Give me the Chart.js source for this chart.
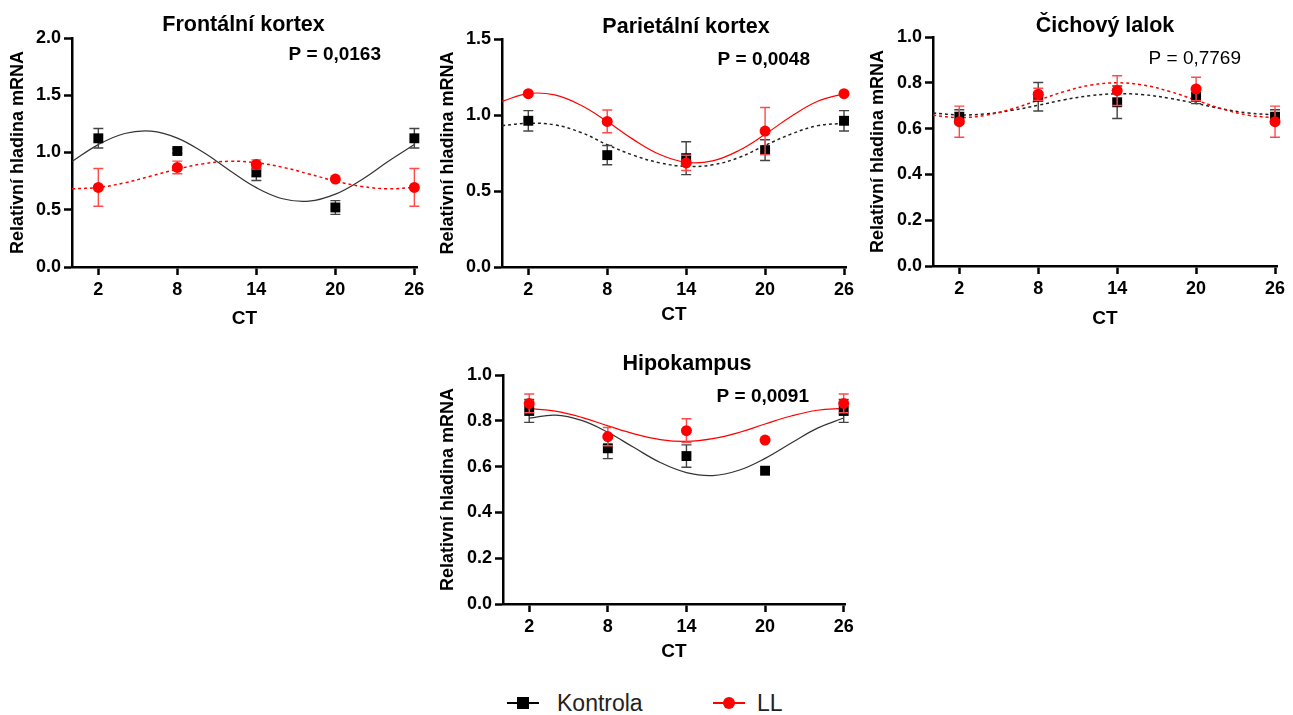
<!DOCTYPE html>
<html lang="cs">
<head>
<meta charset="utf-8">
<title>Relativní hladina mRNA</title>
<script src="https://cdn.jsdelivr.net/npm/chart.js@4.4.1/dist/chart.umd.min.js"></script>
<style>
  html, body { margin: 0; padding: 0; background: #fff; }
  body { width: 1293px; height: 715px; position: relative; overflow: hidden;
         font-family: "Liberation Sans", Arial, sans-serif; }
  canvas { position: absolute; }
  .legend-item { position: absolute; top: 689px; height: 28px; display: flex; align-items: center;
                 font-size: 23px; color: #222; white-space: nowrap; }
  .mk { position: relative; width: 32px; height: 28px; }
  .mk .ln { position: absolute; left: 0; right: 0; top: 13px; height: 2px; }
  .mk .sq { position: absolute; left: 10px; top: 8px; width: 12px; height: 12px; background: #000; }
  .mk .ci { position: absolute; left: 10px; top: 8px; width: 12px; height: 12px; border-radius: 50%; background: #ff0000; }
</style>
</head>
<body>
<canvas id="frontal" width="430" height="340" style="left:0px;top:0px"></canvas>
<canvas id="parietal" width="430" height="340" style="left:430px;top:0px"></canvas>
<canvas id="olfactory" width="433" height="340" style="left:860px;top:0px"></canvas>
<canvas id="hippo" width="430" height="330" style="left:430px;top:340px"></canvas>

<div class="legend-item" style="left:507px">
  <span class="mk" style="margin-right:18px"><span class="ln" style="background:#000"></span><span class="sq"></span></span>Kontrola
</div>
<div class="legend-item" style="left:713px">
  <span class="mk" style="margin-right:12px"><span class="ln" style="background:#ff0000"></span><span class="ci"></span></span>LL
</div>

<script>
// Sampling times (circadian time, h)
const ctTicks = [2, 8, 14, 20, 26];

// Frontální kortex: means and SEM
const frontalKontrola    = [1.124, 1.013, 0.826, 0.520, 1.124];
const frontalKontrolaSem = [0.085, 0.020, 0.070, 0.060, 0.085];
const frontalLL          = [0.695, 0.870, 0.896, 0.768, 0.695];
const frontalLLSem       = [0.165, 0.055, 0.040, 0.000, 0.165];

// Parietální kortex
const parietalKontrola    = [0.962, 0.736, 0.716, 0.769, 0.962];
const parietalKontrolaSem = [0.067, 0.063, 0.108, 0.068, 0.067];
const parietalLL          = [1.140, 0.958, 0.685, 0.894, 1.140];
const parietalLLSem       = [0.000, 0.075, 0.050, 0.155, 0.000];

// Čichový lalok
const olfactoryKontrola    = [0.652, 0.739, 0.715, 0.739, 0.652];
const olfactoryKontrolaSem = [0.030, 0.062, 0.071, 0.030, 0.030];
const olfactoryLL          = [0.630, 0.750, 0.766, 0.773, 0.630];
const olfactoryLLSem       = [0.068, 0.026, 0.065, 0.051, 0.068];

// Hipokampus
const hippoKontrola    = [0.843, 0.680, 0.646, 0.582, 0.843];
const hippoKontrolaSem = [0.050, 0.045, 0.049, 0.000, 0.050];
const hippoLL          = [0.876, 0.731, 0.757, 0.716, 0.876];
const hippoLLSem       = [0.041, 0.040, 0.052, 0.000, 0.041];

// Cosinor fit curves, sampled every 2 h
const fitHours      = [0, 2, 4, 6, 8, 10, 12, 14, 16, 18, 20, 22, 24, 26];
const fitHoursHippo = [2, 4, 6, 8, 10, 12, 14, 16, 18, 20, 22, 24, 26];

const frontalKontrolaFit   = [0.921, 1.069, 1.166, 1.187, 1.126, 0.999, 0.841, 0.693, 0.596, 0.575, 0.636, 0.763, 0.921, 1.069];
const frontalLLFit         = [0.683, 0.695, 0.735, 0.794, 0.855, 0.902, 0.923, 0.911, 0.871, 0.812, 0.751, 0.704, 0.683, 0.695];
const parietalKontrolaFit  = [0.930, 0.945, 0.935, 0.885, 0.805, 0.735, 0.685, 0.662, 0.672, 0.720, 0.800, 0.875, 0.930, 0.945];
const parietalLLFit        = [1.090, 1.141, 1.132, 1.064, 0.957, 0.838, 0.740, 0.689, 0.698, 0.766, 0.873, 0.992, 1.090, 1.141];
const olfactoryKontrolaFit = [0.668, 0.660, 0.664, 0.680, 0.702, 0.726, 0.744, 0.752, 0.748, 0.732, 0.710, 0.686, 0.668, 0.660];
const olfactoryLLFit       = [0.658, 0.648, 0.658, 0.686, 0.724, 0.762, 0.790, 0.800, 0.790, 0.762, 0.724, 0.686, 0.658, 0.648];
const hippoKontrolaFit     = [0.812, 0.825, 0.802, 0.750, 0.683, 0.618, 0.574, 0.561, 0.584, 0.636, 0.703, 0.768, 0.812];
const hippoLLFit           = [0.854, 0.842, 0.815, 0.778, 0.743, 0.718, 0.710, 0.722, 0.749, 0.786, 0.821, 0.846, 0.854];

const FONT = '"Liberation Sans", Arial, sans-serif';
const BLACK = '#000000';
const RED = '#ff0000';
const DASH = [3, 3];

const toPoints = (xs, ys) => xs.map((x, i) => ({ x: x, y: ys[i] }));

// Error bars (mean ± SEM) drawn just beneath their markers
const errorBarPlugin = {
  id: 'errorBars',
  beforeDatasetDraw(chart, args) {
    const ds = chart.data.datasets[args.index];
    if (!ds.errors) return;
    const xs = chart.scales.x, ys = chart.scales.y, ctx = chart.ctx;
    ctx.save();
    ctx.strokeStyle = ds.errorColor;
    ctx.lineWidth = 1.4;
    ds.data.forEach((p, i) => {
      const e = ds.errors[i];
      if (!e) return;
      const px = xs.getPixelForValue(p.x);
      const top = ys.getPixelForValue(p.y + e);
      const bot = ys.getPixelForValue(p.y - e);
      ctx.beginPath();
      ctx.moveTo(px, top); ctx.lineTo(px, bot);
      ctx.moveTo(px - 5, top); ctx.lineTo(px + 5, top);
      ctx.moveTo(px - 5, bot); ctx.lineTo(px + 5, bot);
      ctx.stroke();
    });
    ctx.restore();
  }
};

// Panel heading and P value of the rhythm comparison
const panelTextPlugin = {
  id: 'panelText',
  afterDraw(chart, args, o) {
    const { ctx, chartArea } = chart;
    ctx.save();
    ctx.fillStyle = '#000';
    ctx.textBaseline = 'alphabetic';
    ctx.textAlign = 'center';
    ctx.font = 'bold 21.5px ' + FONT;
    ctx.fillText(o.title, (chartArea.left + chartArea.right) / 2 + o.titleDx, chartArea.top + o.titleDy);
    ctx.textAlign = 'right';
    ctx.font = (o.pBold ? 'bold ' : '') + '19px ' + FONT;
    ctx.fillText(o.pText, chartArea.right - 36, chartArea.top + o.pDy);
    ctx.restore();
  }
};

function makePanel(id, cfg) {
  const datasets = [
    { label: 'LL', data: toPoints(ctTicks, cfg.ll), errors: cfg.llSem, errorColor: '#ff4a4a',
      showLine: false, pointStyle: 'circle', pointRadius: 5.5, pointBackgroundColor: RED,
      pointBorderColor: RED, pointBorderWidth: 0, clip: false },
    { label: 'Kontrola', data: toPoints(ctTicks, cfg.k), errors: cfg.kSem, errorColor: '#444444',
      showLine: false, pointStyle: 'rect', pointRadius: 7, pointBackgroundColor: BLACK,
      pointBorderColor: BLACK, pointBorderWidth: 0, clip: false },
    { label: 'LL fit', data: toPoints(cfg.fitX, cfg.llFit), showLine: true, tension: 0.4,
      pointRadius: 0, borderColor: RED, borderWidth: cfg.llDashed ? 1.5 : 1.2,
      borderDash: cfg.llDashed ? DASH : [], clip: false },
    { label: 'Kontrola fit', data: toPoints(cfg.fitX, cfg.kFit), showLine: true, tension: 0.4,
      pointRadius: 0, borderColor: cfg.kDashed ? '#222' : '#333', borderWidth: cfg.kDashed ? 1.5 : 1.2,
      borderDash: cfg.kDashed ? DASH : [], clip: false }
  ];

  const tickFont = { family: FONT, size: 18, weight: 'bold' };

  return new Chart(document.getElementById(id), {
    type: 'scatter',
    data: { datasets },
    plugins: [errorBarPlugin, panelTextPlugin],
    options: {
      responsive: false,
      animation: false,
      devicePixelRatio: 1,
      layout: { padding: { top: cfg.padTop, right: cfg.padRight, bottom: 0, left: 0 } },
      plugins: {
        legend: { display: false },
        tooltip: { enabled: false },
        panelText: { title: cfg.title, titleDx: cfg.titleDx, titleDy: cfg.titleDy,
                     pText: cfg.pText, pBold: cfg.pBold, pDy: cfg.pDy }
      },
      scales: {
        x: {
          type: 'linear', min: 0, max: cfg.xMax,
          afterBuildTicks: s => { s.ticks = ctTicks.map(v => ({ value: v })); },
          afterFit: s => { s.height = cfg.xHeight; s.paddingLeft = 0; s.paddingRight = 0; },
          ticks: { font: tickFont, color: '#000', padding: 4, maxRotation: 0, autoSkip: false },
          grid: { drawOnChartArea: false, drawTicks: true, tickLength: 8, tickWidth: 2.5, tickColor: '#000' },
          border: { display: true, color: '#000', width: 2.5 },
          title: { display: true, text: 'CT', color: '#000',
                   font: { family: FONT, size: 19, weight: 'bold' },
                   padding: { top: 0, bottom: cfg.ctPad } }
        },
        y: {
          min: 0, max: cfg.yMax,
          afterFit: s => { s.width = cfg.yWidth; s.paddingTop = 0; s.paddingBottom = 0; },
          ticks: { stepSize: cfg.yStep, font: tickFont, color: '#000', padding: 3,
                   callback: v => Number(v).toFixed(1) },
          grid: { drawOnChartArea: false, drawTicks: true, tickLength: 8, tickWidth: 2.5, tickColor: '#000' },
          border: { display: true, color: '#000', width: 2.5 },
          title: { display: true, text: 'Relativní hladina mRNA', color: '#000',
                   font: { family: FONT, size: 18, weight: 'bold' },
                   padding: { top: 7, bottom: 0 } }
        }
      }
    }
  });
}

makePanel('frontal', {
  title: 'Frontální kortex', titleDx: -1, titleDy: -7, pText: 'P = 0,0163', pBold: true, pDy: 22,
  k: frontalKontrola, kSem: frontalKontrolaSem, ll: frontalLL, llSem: frontalLLSem,
  fitX: fitHours, kFit: frontalKontrolaFit, llFit: frontalLLFit, kDashed: false, llDashed: true,
  yMax: 2.0, yStep: 0.5, xMax: 26.2,
  padTop: 38, padRight: 13, yWidth: 72, xHeight: 73, ctPad: 10
});

makePanel('parietal', {
  title: 'Parietální kortex', titleDx: 12, titleDy: -6, pText: 'P = 0,0048', pBold: true, pDy: 26,
  k: parietalKontrola, kSem: parietalKontrolaSem, ll: parietalLL, llSem: parietalLLSem,
  fitX: fitHours, kFit: parietalKontrolaFit, llFit: parietalLLFit, kDashed: true, llDashed: false,
  yMax: 1.5, yStep: 0.5, xMax: 26.15,
  padTop: 39, padRight: 14, yWidth: 72, xHeight: 73, ctPad: 14
});

makePanel('olfactory', {
  title: 'Čichový lalok', titleDx: 0, titleDy: -5, pText: 'P = 0,7769', pBold: false, pDy: 27,
  k: olfactoryKontrola, kSem: olfactoryKontrolaSem, ll: olfactoryLL, llSem: olfactoryLLSem,
  fitX: fitHours, kFit: olfactoryKontrolaFit, llFit: olfactoryLLFit, kDashed: true, llDashed: true,
  yMax: 1.0, yStep: 0.2, xMax: 26.15,
  padTop: 37, padRight: 16, yWidth: 73, xHeight: 74, ctPad: 10
});

makePanel('hippo', {
  title: 'Hipokampus', titleDx: 13, titleDy: -5, pText: 'P = 0,0091', pBold: true, pDy: 27,
  k: hippoKontrola, kSem: hippoKontrolaSem, ll: hippoLL, llSem: hippoLLSem,
  fitX: fitHoursHippo, kFit: hippoKontrolaFit, llFit: hippoLLFit, kDashed: false, llDashed: false,
  yMax: 1.0, yStep: 0.2, xMax: 26.1,
  padTop: 35, padRight: 15, yWidth: 73, xHeight: 66, ctPad: 7
});
</script>
</body>
</html>
